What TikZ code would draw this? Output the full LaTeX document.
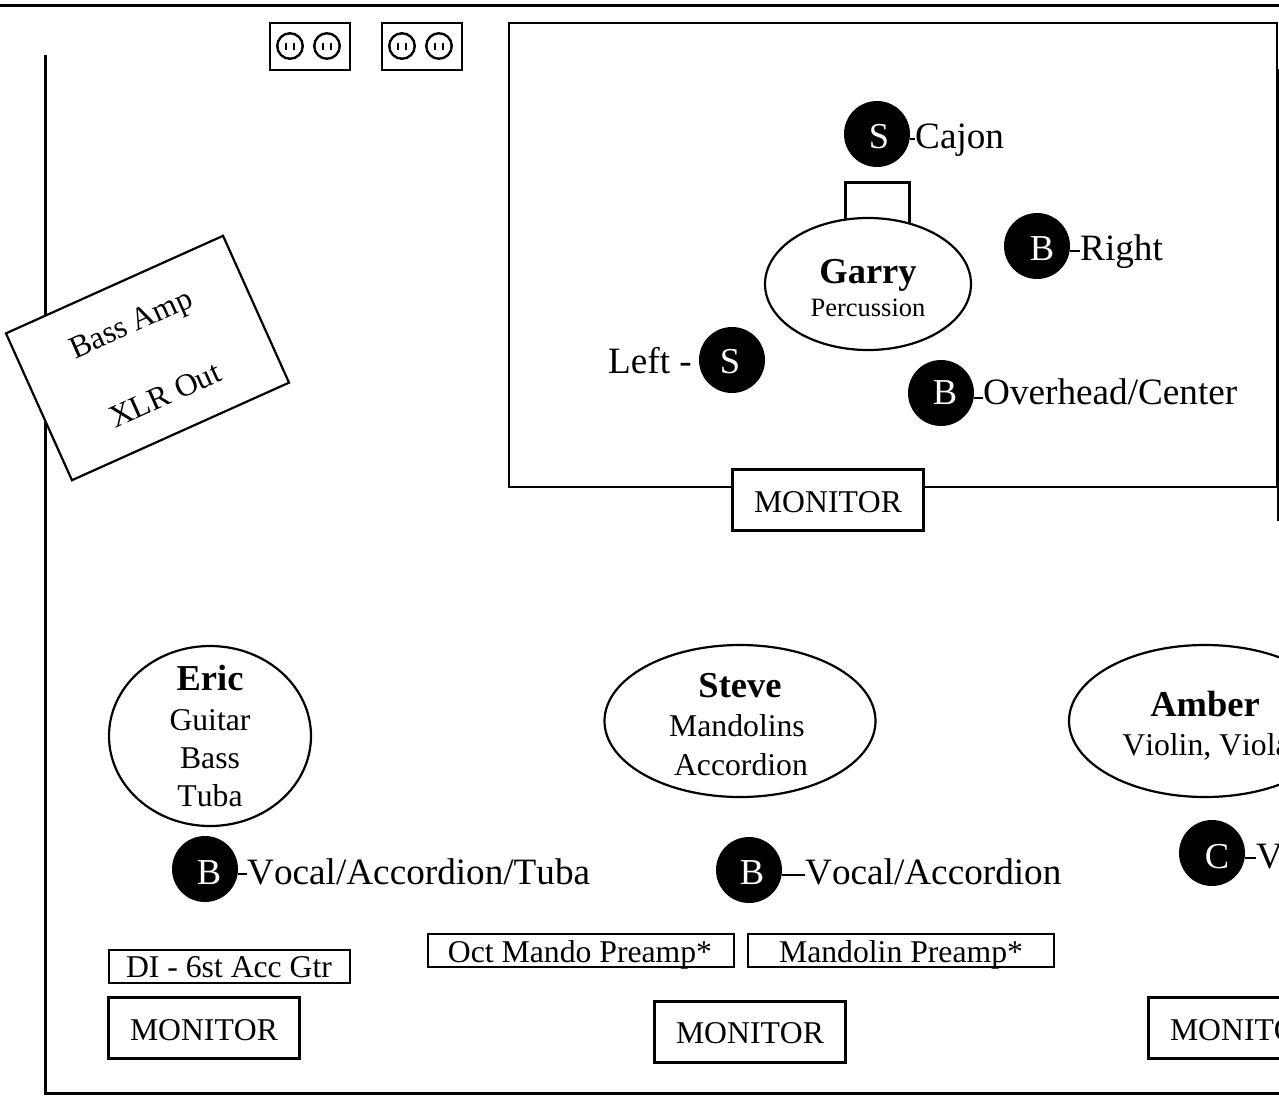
\documentclass[tikz,border=0pt]{standalone}
\usepackage{fontspec}
\setmainfont[Kerning=Off]{Liberation Serif}
\usetikzlibrary{shapes.geometric}
\newcommand{\fsA}{\fontsize{31.7}{38}\selectfont}
\newcommand{\fsB}{\fontsize{37.2}{40}\selectfont}
\newcommand{\fsBn}{\fontsize{36.5}{40}\selectfont}
\newcommand{\fsC}{\fontsize{26.5}{30}\selectfont}
\tikzset{
  wall/.style={draw=black,line width=3pt},
  frame/.style={draw=black,line width=2.6pt},
  boxed/.style={draw=black,line width=2.2pt,fill=white,rectangle,inner sep=0pt},
  person/.style={draw=black,line width=2.2pt,fill=white,ellipse,inner sep=0pt},
  mic/.style={circle,fill=black,inner sep=0pt,minimum size=66pt},
  micl/.style={inner sep=0pt,anchor=base,text=white,font=\fsBn},
  lab/.style={inner sep=0pt,anchor=base west,font=\fsB},
  txt/.style={inner sep=0pt,anchor=base,font=\fsA},
  socket/.style={circle,draw=black,line width=2.4pt,inner sep=0pt,minimum size=25.5pt},
  pin/.style={line width=2.2pt},
  wire/.style={line width=2.2pt}
}
\newcommand{\outlet}[3]{% name, x, y
  \node[boxed,line width=2.4pt,minimum width=80pt,minimum height=47pt,anchor=north west] (#1) at (#2,#3) {};
  \node[socket] (#1a) at (#2+21.5,#3+24) {};
  \node[socket] (#1b) at (#2+58.5,#3+24) {};
  \draw[pin] (#2+17.5,#3+20.5) -- (#2+17.5,#3+27.5) (#2+25.5,#3+20.5) -- (#2+25.5,#3+27.5);
  \draw[pin] (#2+54.5,#3+20.5) -- (#2+54.5,#3+27.5) (#2+62.5,#3+20.5) -- (#2+62.5,#3+27.5);
}
\newcommand{\micwire}[2]{% mic name, label name
  \coordinate (#1w) at ([yshift=-5pt]#1.east);
  \draw[wire] (#1w) -- (#1w -| #2.west);
}
\begin{document}
\begin{tikzpicture}[x=1pt,y=-1pt]
\useasboundingbox (0,0) rectangle (1279,1095);
\clip (0,0) rectangle (1279,1095);
\fill[white] (0,0) rectangle (1279,1095);
% walls
\coordinate (tl) at (0,5.5); \coordinate (tr) at (1279,5.5);
\draw[wall] (tl) -- (tr);
\coordinate (wa) at (45,55); \coordinate (wb) at (45,1093); \coordinate (wc) at (1279,1093);
\draw[wall] (wa) -- (wb) -- (wc);
% riser
\draw[frame] (1278,70) rectangle (1300,520);
\draw[frame,fill=white] (509,23) rectangle (1277,487);
% outlets
\outlet{oa}{268.5}{22}
\outlet{ob}{380.5}{22}
% amp
\node[boxed,rotate=24.2,minimum width=238pt,minimum height=161pt] (amp) at (147.5,358) {};
\node[rotate=24.2,inner sep=0pt,font=\fsA] (ampa) at (132,326) {Bass Amp};
\node[inner sep=0pt,font=\fsA,rotate=24.2] (ampb) at (165,395) {XLR Out};
% Garry
\node[draw=black,line width=3pt,minimum width=64pt,minimum height=50pt,inner sep=0pt] (stool) at (877,207) {};
\node[person,minimum width=206pt,minimum height=132pt] (garry) at (868,284) {};
\node[inner sep=0pt,anchor=base,font=\fsBn\bfseries] (garryn) at (868,283) {Garry};
\node[inner sep=0pt,anchor=base,font=\fsC] (garryi) at (868,316) {Percussion};
% mics riser
\node[mic] (m1) at (877,134) {};
\node[micl] (t1) at (879,148) {S};
\node[lab] (l1) at (915,148) {Cajon};
\node[mic] (m2) at (1037,246) {};
\node[micl] (t2) at (1042,260) {B};
\node[lab] (l2) at (1080,260) {Right};
\node[mic] (m3) at (732,360) {};
\node[micl] (t3) at (730,373) {S};
\node[inner sep=0pt,anchor=base east,font=\fsB] (l3) at (692,373) {Left -};
\node[mic] (m4) at (941,393) {};
\node[micl] (t4) at (945,404) {B};
\node[lab] (l4) at (983,404) {Overhead/Center};
\micwire{m1}{l1}
\micwire{m2}{l2}
\micwire{m4}{l4}
% monitors
\node[boxed,minimum width=191pt,minimum height=61pt] (mon1) at (828,500) {};
\node[txt] (mt1) at (828,512) {MONITOR};
\node[boxed,minimum width=191pt,minimum height=61pt] (mon2) at (204,1028) {};
\node[txt] (mt2) at (204,1040) {MONITOR};
\node[boxed,minimum width=191pt,minimum height=61pt] (mon3) at (750,1032) {};
\node[txt] (mt3) at (750,1043) {MONITOR};
\node[boxed,minimum width=191pt,minimum height=61pt] (mon4) at (1244,1028) {};
\node[txt] (mt4) at (1244,1040) {MONITOR};
% people
\node[person,minimum width=202pt,minimum height=180pt] (eric) at (210,736) {};
\node[inner sep=0pt,anchor=base,font=\fsBn\bfseries] (en) at (210,690) {Eric};
\node[txt] (e1) at (210,730) {Guitar};
\node[txt] (e2) at (210,768) {Bass};
\node[txt] (e3) at (210,806) {Tuba};
\node[person,minimum width=271pt,minimum height=152pt] (steve) at (740,721) {};
\node[inner sep=0pt,anchor=base,font=\fsBn\bfseries] (sn) at (740,697) {Steve};
\node[txt] (s1) at (737,736) {Mandolins};
\node[txt] (s2) at (741,775) {Accordion};
\node[person,minimum width=272pt,minimum height=152pt] (amber) at (1205,721) {};
\node[inner sep=0pt,anchor=base,font=\fsBn\bfseries] (an) at (1205,716) {Amber};
\node[txt] (a1) at (1206,755) {Violin, Viola};
% bottom mics
\node[mic] (m5) at (205,869) {};
\node[micl] (t5) at (209,884) {B};
\node[lab] (l5) at (247,884) {Vocal/Accordion/Tuba};
\node[mic] (m6) at (749,870) {};
\node[micl] (t6) at (752,884) {B};
\node[lab] (l6) at (805,884) {Vocal/Accordion};
\node[mic] (m7) at (1212,853) {};
\node[micl] (t7) at (1217,868) {C};
\node[lab] (l7) at (1256,868) {V};
\micwire{m5}{l5}
\micwire{m6}{l6}
\micwire{m7}{l7}
% DI
\node[boxed,line width=2pt,minimum width=241pt,minimum height=33pt] (di) at (229,966) {};
\node[txt] (dit) at (229,977) {DI - 6st Acc Gtr};
\node[boxed,line width=2pt,minimum width=306pt,minimum height=33pt] (oct) at (581,950) {};
\node[txt] (octt) at (580,962) {Oct Mando Preamp*};
\node[boxed,line width=2pt,minimum width=306pt,minimum height=33pt] (man) at (901,950) {};
\node[txt] (mant) at (901,962) {Mandolin Preamp*};
\end{tikzpicture}
\end{document}
